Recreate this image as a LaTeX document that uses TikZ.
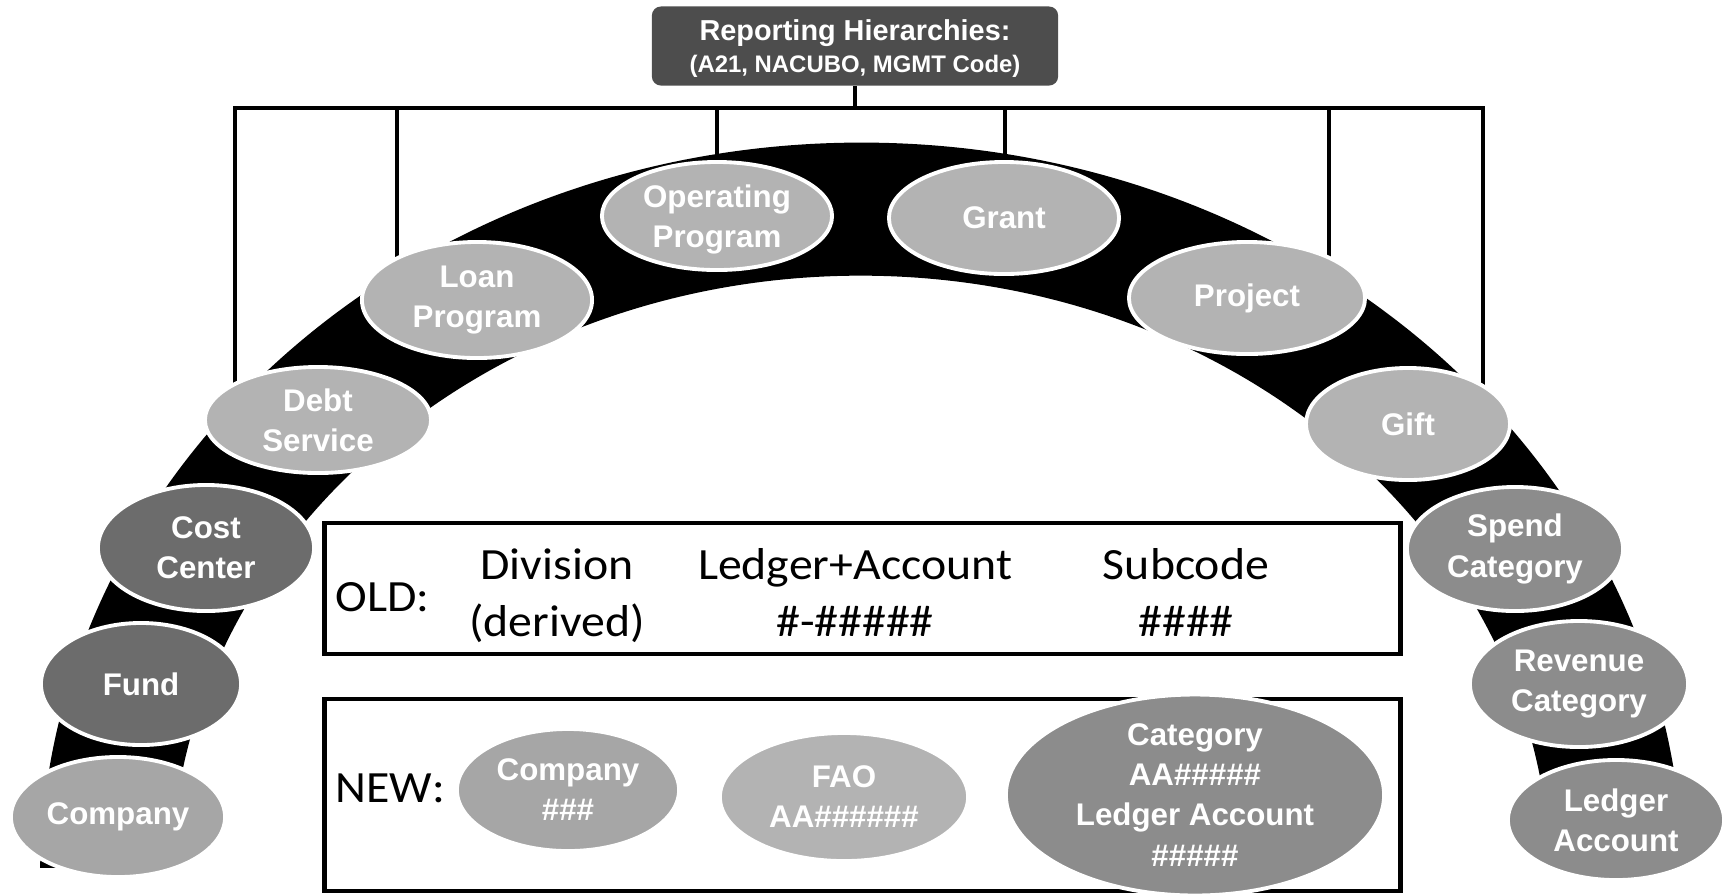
\documentclass[tikz,border=0pt]{standalone}
\usepackage{fontspec}
\setmainfont{Liberation Sans}
\newfontfamily\calibri[FakeStretch=1.07]{Carlito}
\usepackage{tikz}
\usetikzlibrary{shapes.geometric, backgrounds}
\definecolor{segdark}{HTML}{6C6C6C}
\definecolor{segmid}{HTML}{8C8C8C}
\definecolor{seglight}{HTML}{B3B3B3}
\definecolor{segco}{HTML}{A6A6A6}
\definecolor{boxdark}{HTML}{4D4D4D}

\tikzset{
  seg/.style={ellipse, draw=white, line width=1.1pt, text=white, align=center,
    inner sep=0pt, font=\fontsize{8.9}{11.4}\selectfont\bfseries},
  sz/.style 2 args={minimum width=#1cm, minimum height=#2cm},
  bracket/.style={line width=1.4pt},
  codebox/.style={draw, line width=1.3pt, inner sep=0pt},
  codetext/.style={align=center, inner sep=0pt, font=\calibri\fontsize{12.7}{16.2}\selectfont},
}

\begin{document}
\begin{tikzpicture}[x=0.01cm, y=-0.01cm]
    \useasboundingbox (0,0) rectangle (1724,893);

    % Reporting hierarchies box
    \node (rh) at (855,46) [fill=boxdark, rounded corners=0.09cm, minimum width=4.06cm,
        minimum height=0.79cm, text=white, align=center, inner sep=0pt, text depth=0pt,
        font=\fontsize{8.2}{9}\selectfont\bfseries]
        {Reporting Hierarchies:\\{\fontsize{6.8}{9}\selectfont(A21, NACUBO, MGMT Code)}};

    % Old and new boxes
    \node (oldbox) at (862.5,588.5) [codebox, minimum width=10.75cm, minimum height=1.31cm] {};
    \node (newbox) at (862.5,795) [codebox, minimum width=10.75cm, minimum height=1.92cm] {};

    \node (oldlbl) at (335,597) [codetext, anchor=west] {OLD:};
    \node (div) at (557,596) [codetext] {Division\\(derived)};
    \node (lac) at (855,592) [codetext] {Ledger+Account\\\#-\#\#\#\#\#};
    \node (sub) at (1186,592) [codetext] {Subcode\\\#\#\#\#};
    \node (newlbl) at (335,788) [codetext, anchor=west] {NEW:};

    % Segments along the arch
    \node (co) at (118,817) [seg, fill=segco, sz={2.14}{1.20}] {Company};
    \node (fu) at (141,684) [seg, fill=segdark, sz={2.00}{1.22}] {Fund};
    \node (cc) at (206,548) [seg, fill=segdark, sz={2.16}{1.26}] {Cost\\Center};
    \node (ds) at (318,420) [seg, fill=seglight, sz={2.26}{1.06}] {Debt\\Service};
    \node (lp) at (477,300) [seg, fill=seglight, sz={2.30}{1.16}] {Loan\\Program};
    \node (op) at (717,216) [seg, fill=seglight, sz={2.30}{1.08}, text depth=0pt] {Operating\\Program};
    \node (gr) at (1004,218) [seg, fill=seglight, sz={2.30}{1.12}] {Grant};
    \node (pj) at (1247,298) [seg, fill=seglight, sz={2.36}{1.12}] {Project};
    \node (gf) at (1408,424) [seg, fill=seglight, sz={2.04}{1.12}] {Gift};
    \node (sc) at (1515,549) [seg, fill=segmid, sz={2.16}{1.24}] {Spend\\Category};
    \node (rc) at (1579,684) [seg, fill=segmid, sz={2.18}{1.26}] {Revenue\\Category};
    \node (la) at (1616,820) [seg, fill=segmid, sz={2.16}{1.20}] {Ledger\\Account};

    % New segments
    \node (nco) at (568,790) [seg, fill=segco, sz={2.22}{1.22}] {Company\\\#\#\#};
    \node (fao) at (844,797) [seg, fill=seglight, sz={2.48}{1.28}] {FAO\\AA\#\#\#\#\#\#};
    \node (cat) at (1195,795) [seg, fill=segmid, sz={3.78}{1.86}]
        {Category\\AA\#\#\#\#\#\\Ledger Account\\\#\#\#\#\#};

    % Drop points on the bracket
    \foreach \n/\x in {ds/235, lp/397, op/717, gr/1005, pj/1329, gf/1483}
        \coordinate (t-\n) at (\x,108);

    \begin{pgfonlayer}{background}
        % The arch
        \begin{scope}
            \clip (0,0) rectangle (1724,867);
            \fill (40,880) arc[start angle=180, end angle=0, x radius=8.21cm, y radius=7.37cm]
                -- (1550,880) arc[start angle=0, end angle=180, x radius=6.89cm, y radius=6.04cm]
                -- cycle;
        \end{scope}

        % Bracket from the hierarchies box
        \draw[bracket] (rh.south) -- (rh.south |- t-ds);
        \draw[bracket] (t-ds |- ds.center) -- (t-ds) -- (t-gf) -- (t-gf |- gf.center);
        \foreach \n in {lp, op, gr, pj}
            \draw[bracket] (t-\n) -- (t-\n |- \n.center);
    \end{pgfonlayer}
\end{tikzpicture}
\end{document}
